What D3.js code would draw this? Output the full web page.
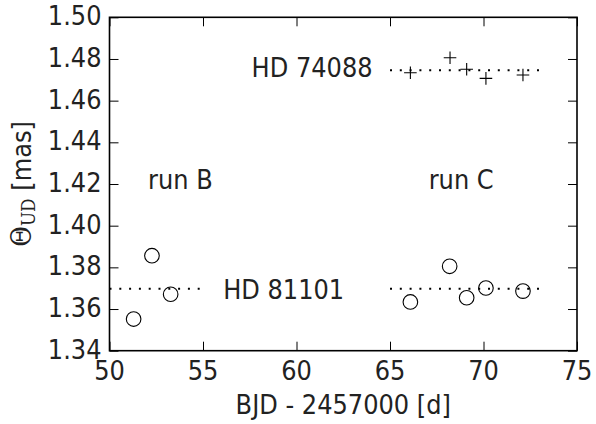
<!DOCTYPE html>
<html><head><meta charset="utf-8">
<script src="https://cdn.jsdelivr.net/npm/d3@7"></script>
<style>body{margin:0;background:#fff}svg{display:block}</style>
</head><body>
<svg id="c" width="596" height="424"></svg>
<script>
// ---- data ----
const xTicks = [50, 55, 60, 65, 70, 75];
const yTicks = [1.34, 1.36, 1.38, 1.40, 1.42, 1.44, 1.46, 1.48, 1.50];
const hd81101X = [51.29, 52.27, 53.27, 66.09, 68.19, 69.10, 70.13, 72.11];
const hd81101Y = [1.3552, 1.3856, 1.3671, 1.3634, 1.3805, 1.3654, 1.3701, 1.3686];
const hd74088X = [66.09, 68.21, 69.10, 70.13, 72.11];
const hd74088Y = [1.4734, 1.4806, 1.4751, 1.4707, 1.4723];
const meanLines = [
  {x0: 50, x1: 55, y: 1.3697},
  {x0: 65, x1: 73, y: 1.3697},
  {x0: 65, x1: 73, y: 1.4746}
];
const labels = [
  {text: "HD 74088", x: 57.6, y: 1.4714},
  {text: "run B", x: 52.06, y: 1.4177},
  {text: "run C", x: 67.07, y: 1.4177},
  {text: "HD 81101", x: 56.08, y: 1.3647}
];

// ---- layout ----
const svg = d3.select("#c");
const L = 109.5, R = 577, T = 17.3, B = 350.7;
const x = d3.scaleLinear().domain([50, 75]).range([L, R]);
const y = d3.scaleLinear().domain([1.34, 1.50]).range([B, T]);
const FS = 24.1, SY = 1.08;
const font = "'DejaVu Sans', sans-serif";
const col = "#222";

function txt(g, s, px, py, anchor) {
  return g.append("text")
    .attr("transform", `translate(${px},${py}) scale(1,${SY})`)
    .attr("text-anchor", anchor || "start")
    .attr("font-family", font).attr("font-size", FS).attr("fill", col)
    .text(s);
}

// mean lines (dotted)
svg.append("g").selectAll("line").data(meanLines).join("line")
  .attr("x1", d => x(d.x0)).attr("x2", d => x(d.x1))
  .attr("y1", d => y(d.y)).attr("y2", d => y(d.y))
  .attr("stroke", "#000").attr("stroke-width", 2)
  .attr("stroke-dasharray", "2,7.8");

// circles HD 81101
svg.append("g").selectAll("circle").data(hd81101X.map((v, i) => [v, hd81101Y[i]])).join("circle")
  .attr("cx", d => x(d[0])).attr("cy", d => y(d[1])).attr("r", 7.3)
  .attr("fill", "none").attr("stroke", "#000").attr("stroke-width", 1.1);

// crosses HD 74088
const cs = 6.3;
svg.append("g").selectAll("path").data(hd74088X.map((v, i) => [v, hd74088Y[i]])).join("path")
  .attr("d", d => `M${x(d[0]) - cs},${y(d[1])}H${x(d[0]) + cs}M${x(d[0])},${y(d[1]) - cs}V${y(d[1]) + cs}`)
  .attr("stroke", "#000").attr("stroke-width", 1.1).attr("fill", "none");

// annotations
const ag = svg.append("g");
labels.forEach(d => txt(ag, d.text, x(d.x), y(d.y)));

// axes with inward ticks
const tl = 9;
const axB = svg.append("g").attr("transform", `translate(0,${B})`)
  .call(d3.axisBottom(x).tickValues(xTicks).tickSizeInner(-tl).tickSizeOuter(0).tickFormat(""));
const axT = svg.append("g").attr("transform", `translate(0,${T})`)
  .call(d3.axisTop(x).tickValues(xTicks).tickSizeInner(-tl).tickSizeOuter(0).tickFormat(""));
const axL = svg.append("g").attr("transform", `translate(${L},0)`)
  .call(d3.axisLeft(y).tickValues(yTicks).tickSizeInner(-tl).tickSizeOuter(0).tickFormat(""));
const axRt = svg.append("g").attr("transform", `translate(${R},0)`)
  .call(d3.axisRight(y).tickValues(yTicks).tickSizeInner(-tl).tickSizeOuter(0).tickFormat(""));
[axB, axT, axL, axRt].forEach(a => {
  a.select(".domain").remove();
  a.selectAll(".tick line").attr("stroke", "#000").attr("stroke-width", 1);
});
svg.append("rect").attr("x", L).attr("y", T).attr("width", R - L).attr("height", B - T)
  .attr("fill", "none").attr("stroke", "#000").attr("stroke-width", 1.6);

// tick labels
const tg = svg.append("g");
xTicks.forEach(v => txt(tg, String(v), x(v), B + 29.5, "middle"));
yTicks.forEach(v => txt(tg, v.toFixed(2), L - 8, y(v) + 8, "end"));

// axis titles
txt(svg, "BJD - 2457000 [d]", (L + R) / 2, 414, "middle");
const yl = svg.append("text")
  .attr("transform", `translate(31,${(T + B) / 2}) rotate(-90) scale(1,${SY})`)
  .attr("text-anchor", "middle").attr("font-family", font).attr("font-size", FS).attr("fill", col);
yl.append("tspan").attr("font-family", "'DejaVu Serif', serif").attr("font-size", FS * 1.05).text("Θ");
yl.append("tspan").attr("font-family", "'DejaVu Serif', serif").attr("font-size", FS * 0.7).attr("dy", 4).text("UD");
yl.append("tspan").attr("dy", -4).text(" [mas]");
</script>
</body></html>
